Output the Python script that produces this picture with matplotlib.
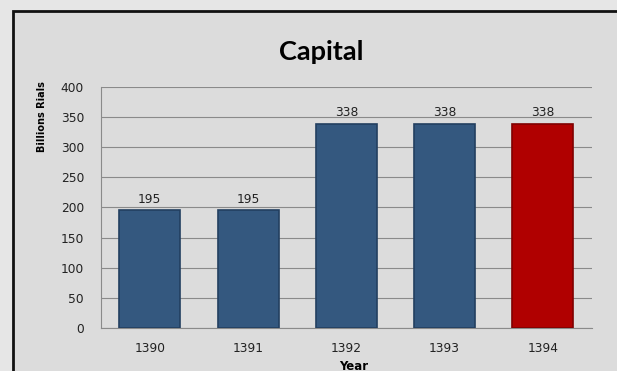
import matplotlib
matplotlib.use("Agg")
import matplotlib.pyplot as plt
from matplotlib.patches import Rectangle

# ── Data ────────────────────────────────────────────
years = ["1390", "1391", "1392", "1393", "1394"]
capital = [195, 195, 338, 338, 338]
bar_colors = ["#34587f", "#34587f", "#34587f", "#34587f", "#b00000"]
edge_colors = ["#233f60", "#233f60", "#233f60", "#233f60", "#800000"]
yticks = [0, 50, 100, 150, 200, 250, 300, 350, 400]

W, H = 617, 371
fig = plt.figure(figsize=(W / 100, H / 100), dpi=100)
fig.patch.set_facecolor("#e6e6e6")

# chart frame (black border, opens to the right / bottom)
frame = Rectangle((13 / W, -0.05), 1.1, 1 - 11 / H + 0.05,
                  transform=fig.transFigure, facecolor="#dcdcdc",
                  edgecolor="#111111", linewidth=2, zorder=-5)
fig.patches.append(frame)

ax = fig.add_axes([100.7 / W, 1 - 328 / H, (592 - 100.7) / W, (328 - 86.7) / H])
ax.set_facecolor("none")

x = range(len(years))
bars = ax.bar(x, capital, width=0.62, color=bar_colors, edgecolor=edge_colors,
              linewidth=1.2, zorder=3)
for b, v in zip(bars, capital):
    ax.annotate(str(v), (b.get_x() + b.get_width() / 2, v), textcoords="offset points",
                xytext=(0, 3.5), ha="center", va="bottom", fontsize=8.8,
                color="#222222", family="DejaVu Sans")

ax.set_xlim(-0.5, len(years) - 0.5)
ax.set_ylim(0, 400)
ax.set_yticks(yticks)
ax.set_xticks(list(x))
ax.set_xticklabels(years)
ax.tick_params(axis="both", length=0, labelsize=8.8, colors="#222222")
ax.tick_params(axis="y", pad=12)
ax.tick_params(axis="x", pad=10)
ax.grid(axis="y", color="#8a8a8a", linewidth=0.8, zorder=0)
for s in ("top", "right"):
    ax.spines[s].set_visible(False)
for s in ("left", "bottom"):
    ax.spines[s].set_color("#8a8a8a")
    ax.spines[s].set_linewidth(0.8)

fig.text(321 / W, 1 - 52 / H, "Capital", ha="center", va="center",
         fontsize=19.5, fontweight="bold", family="Lato")
fig.text(42 / W, 1 - 117 / H, "Billions Rials", ha="center", va="center",
         rotation=90, fontsize=7, fontweight="bold",
         family=["Liberation Sans Narrow", "DejaVu Sans"])
fig.text(354 / W, 1 - 366 / H, "Year", ha="center", va="center",
         fontsize=8.5, fontweight="bold", family="DejaVu Sans")

fig.savefig("out.png", dpi=100, facecolor=fig.get_facecolor())
